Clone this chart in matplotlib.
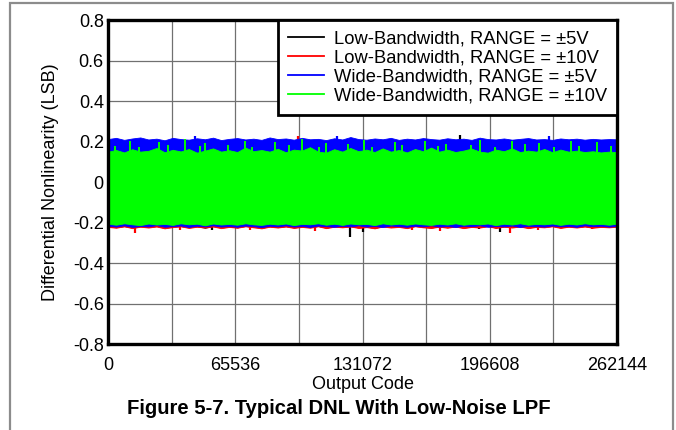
import numpy as np
import matplotlib
matplotlib.use("Agg")
import matplotlib.pyplot as plt
from matplotlib.patches import Rectangle

plt.rcParams['font.family'] = ['Liberation Sans', 'DejaVu Sans']

# ---------------- data ----------------
series_labels = ["Low-Bandwidth, RANGE = \u00b15V",
                 "Low-Bandwidth, RANGE = \u00b110V",
                 "Wide-Bandwidth, RANGE = \u00b15V",
                 "Wide-Bandwidth, RANGE = \u00b110V"]
series_colors = ["#000000", "#ff0000", "#0000ff", "#00ff00"]

x_ticks = [0, 65536, 131072, 196608, 262144]
y_ticks = [-0.8, -0.6, -0.4, -0.2, 0, 0.2, 0.4, 0.6, 0.8]

# envelope samples (64 evenly spaced output codes)
blue_hi = [0.212,0.218,0.208,0.215,0.220,0.210,0.214,0.206,0.218,0.212,0.209,0.216,0.211,0.219,0.207,0.213,
           0.217,0.210,0.214,0.208,0.220,0.212,0.215,0.209,0.218,0.211,0.213,0.207,0.216,0.210,0.222,0.212,
           0.209,0.215,0.211,0.218,0.208,0.214,0.210,0.217,0.212,0.209,0.216,0.211,0.214,0.208,0.219,0.212,
           0.210,0.215,0.209,0.213,0.217,0.210,0.212,0.208,0.215,0.211,0.214,0.209,0.213,0.210,0.212,0.211]
blue_lo = [-0.216,-0.220,-0.214,-0.222,-0.217,-0.219,-0.213,-0.221,-0.218,-0.215,-0.222,-0.216,-0.219,-0.214,-0.220,-0.217,
           -0.221,-0.215,-0.218,-0.223,-0.216,-0.219,-0.214,-0.220,-0.217,-0.222,-0.215,-0.218,-0.221,-0.216,-0.219,-0.214,
           -0.220,-0.217,-0.222,-0.215,-0.218,-0.221,-0.216,-0.219,-0.214,-0.220,-0.217,-0.222,-0.216,-0.218,-0.214,-0.221,
           -0.217,-0.219,-0.215,-0.222,-0.216,-0.218,-0.220,-0.215,-0.219,-0.217,-0.221,-0.214,-0.218,-0.216,-0.220,-0.217]
green_hi = [0.150,0.158,0.146,0.162,0.150,0.154,0.168,0.147,0.159,0.151,0.163,0.145,0.155,0.166,0.150,0.157,
            0.148,0.170,0.152,0.158,0.150,0.164,0.147,0.160,0.155,0.172,0.150,0.145,0.162,0.150,0.168,0.152,
            0.160,0.148,0.166,0.150,0.158,0.146,0.163,0.152,0.170,0.150,0.160,0.148,0.155,0.165,0.150,0.145,
            0.160,0.152,0.166,0.148,0.155,0.150,0.163,0.147,0.160,0.150,0.155,0.148,0.152,0.146,0.150,0.148]
green_lo = [-0.206,-0.211,-0.204,-0.209,-0.213,-0.205,-0.210,-0.207,-0.212,-0.204,-0.209,-0.206,-0.214,-0.205,-0.210,-0.207,
            -0.211,-0.204,-0.209,-0.212,-0.206,-0.210,-0.205,-0.213,-0.207,-0.209,-0.204,-0.211,-0.206,-0.212,-0.205,-0.209,
            -0.207,-0.213,-0.204,-0.210,-0.206,-0.211,-0.205,-0.209,-0.212,-0.206,-0.210,-0.204,-0.211,-0.207,-0.209,-0.205,
            -0.213,-0.206,-0.210,-0.204,-0.211,-0.207,-0.209,-0.205,-0.212,-0.206,-0.210,-0.204,-0.209,-0.207,-0.211,-0.206]
red_lo = [-0.222,-0.226,-0.219,-0.228,-0.221,-0.225,-0.220,-0.229,-0.223,-0.219,-0.227,-0.221,-0.225,-0.220,-0.228,-0.222,
          -0.226,-0.219,-0.224,-0.229,-0.221,-0.225,-0.220,-0.227,-0.222,-0.226,-0.219,-0.228,-0.221,-0.224,-0.220,-0.227,
          -0.223,-0.229,-0.220,-0.225,-0.222,-0.228,-0.219,-0.224,-0.227,-0.221,-0.226,-0.220,-0.228,-0.222,-0.225,-0.219,
          -0.227,-0.221,-0.225,-0.220,-0.228,-0.222,-0.224,-0.219,-0.227,-0.221,-0.225,-0.220,-0.226,-0.222,-0.224,-0.221]
black_lo = [-0.220,-0.223,-0.218,-0.224,-0.219,-0.222,-0.217,-0.225,-0.220,-0.218,-0.223,-0.219,-0.226,-0.218,-0.222,-0.220,
            -0.224,-0.217,-0.221,-0.225,-0.219,-0.223,-0.218,-0.224,-0.220,-0.222,-0.217,-0.225,-0.219,-0.221,-0.218,-0.224,
            -0.220,-0.226,-0.218,-0.222,-0.219,-0.224,-0.217,-0.221,-0.225,-0.219,-0.223,-0.218,-0.224,-0.220,-0.222,-0.217,
            -0.225,-0.219,-0.222,-0.218,-0.224,-0.220,-0.221,-0.217,-0.224,-0.219,-0.222,-0.218,-0.223,-0.220,-0.221,-0.219]

# isolated spikes: (code, value)
green_spike_code = [3500, 11200, 15800, 26400, 31100, 39700, 47300, 50200, 61800, 70400, 74100, 85900, 93300, 99700,
                    108800, 112400, 123600, 131900, 136200, 147700, 151300, 163500, 169900, 174200, 186800, 191500,
                    199300, 207900, 214600, 222100, 229800, 238400, 242700, 251600, 259100]
green_spike_val = [0.178, 0.203, 0.172, 0.196, 0.184, 0.210, 0.176, 0.192, 0.181, 0.203, 0.171, 0.199, 0.183, 0.212,
                   0.175, 0.194, 0.186, 0.206, 0.173, 0.198, 0.185, 0.204, 0.176, 0.190, 0.182, 0.208, 0.174, 0.201,
                   0.186, 0.195, 0.172, 0.203, 0.180, 0.197, 0.176]
red_spike_code = [13900, 37080, 73130, 106600, 156560, 170980, 207030, 221450, 249270, 97850]
red_spike_val = [-0.250, -0.238, -0.236, -0.240, -0.237, -0.240, -0.250, -0.236, -0.232, 0.226]
black_spike_code = [53560, 124630, 131330, 191070, 201880, 181280]
black_spike_val = [-0.237, -0.272, -0.245, -0.230, -0.245, 0.232]
blue_spike_code = [45000, 118000, 227120]
blue_spike_val = [0.226, 0.225, 0.227]

# ---------------- figure ----------------
W, H = 676, 430
fig = plt.figure(figsize=(W / 100, H / 100), dpi=100)
ax = fig.add_axes([108 / W, 1 - 344 / H, 509 / W, 324 / H])

codes = np.linspace(0, 262143, len(blue_hi))
zeros = np.zeros(len(codes))

ax.fill_between(codes, black_lo, zeros, color=series_colors[0], lw=0.6, zorder=2)
ax.vlines(black_spike_code, 0, black_spike_val, color=series_colors[0], lw=1.6, zorder=2)
ax.fill_between(codes, red_lo, zeros, color=series_colors[1], lw=0.6, zorder=3)
ax.vlines(red_spike_code, 0, red_spike_val, color=series_colors[1], lw=1.6, zorder=3)
ax.fill_between(codes, blue_lo, blue_hi, color=series_colors[2], lw=0.6, zorder=4)
ax.vlines(blue_spike_code, 0, blue_spike_val, color=series_colors[2], lw=1.6, zorder=4)
ax.fill_between(codes, green_lo, green_hi, color=series_colors[3], lw=0.6, zorder=5)
ax.vlines(green_spike_code, 0, green_spike_val, color=series_colors[3], lw=1.4, zorder=5)

for c, lab in zip(series_colors, series_labels):
    ax.plot([], [], color=c, lw=1.3, label=lab)

ax.set_xlim(0, 262144)
ax.set_ylim(-0.8, 0.8)
ax.set_xticks(x_ticks)
ax.set_xticklabels([str(v) for v in x_ticks])
ax.set_yticks(y_ticks)
ax.set_yticklabels(["%g" % v for v in y_ticks])
ax.set_xticks(np.arange(0, 262145, 32768), minor=True)
ax.grid(True, which='both', color='#707070', lw=0.9, zorder=1)
ax.set_axisbelow(True)
ax.tick_params(which='both', length=0, labelsize=13)
ax.tick_params(axis='x', pad=9)
ax.tick_params(axis='y', pad=3)
for s in ax.spines.values():
    s.set_linewidth(2.4)
    s.set_color('black')
    s.set_zorder(10)

ax.set_xlabel("Output Code", fontsize=13, labelpad=2)
ax.set_ylabel("Differential Nonlinearity (LSB)", fontsize=13, labelpad=10)

leg = ax.legend(loc='upper right', bbox_to_anchor=(1.0, 1.0), borderaxespad=0,
                fontsize=13.2, frameon=True, fancybox=False, framealpha=1,
                edgecolor='black', handlelength=1.95, handletextpad=0.55,
                labelspacing=0.12, borderpad=0.55)
leg.get_frame().set_linewidth(2.0)
leg.set_zorder(20)

fig.text(339 / W, 1 - 409 / H, "Figure 5-7. Typical DNL With Low-Noise LPF",
         ha='center', va='center', fontsize=14.6, fontweight='bold')

fig.patches.append(Rectangle((10 / W, -0.1), 663 / W, 1.1 - 3 / H, transform=fig.transFigure,
                             fill=False, edgecolor='#8c8c8c', lw=1.6))

fig.savefig("out.png", dpi=100)
